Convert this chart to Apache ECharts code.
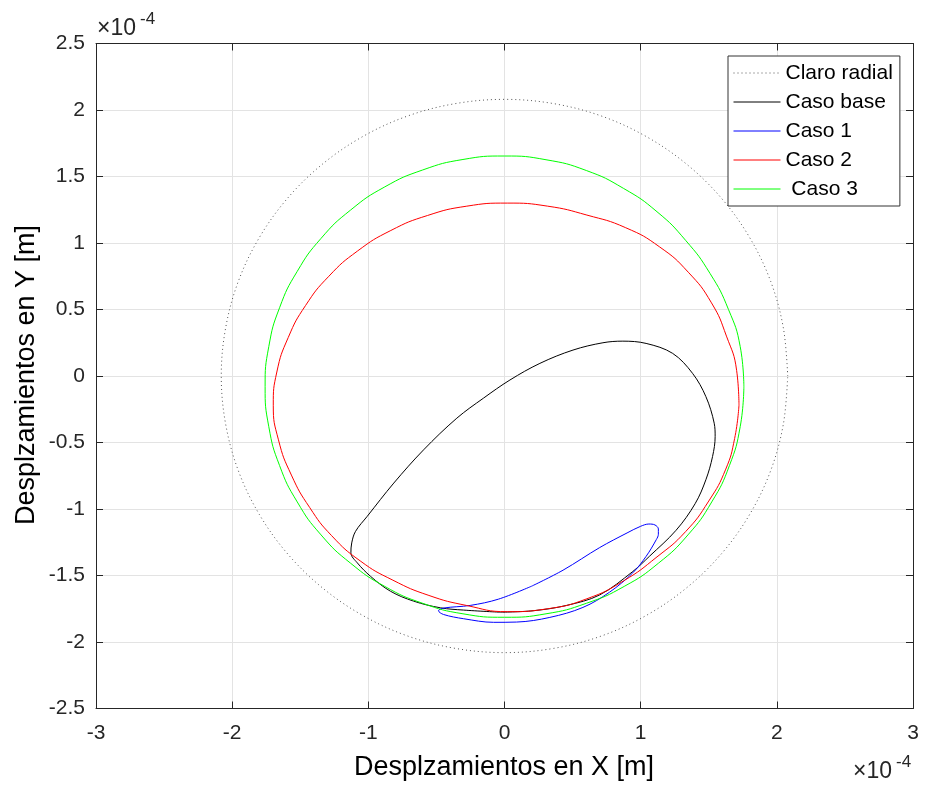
<!DOCTYPE html>
<html>
<head>
<meta charset="utf-8">
<script src="https://cdn.jsdelivr.net/npm/echarts@6/dist/echarts.min.js"></script>
<style>html,body{margin:0;padding:0;background:#fff}#c{width:935px;height:793px}</style>
</head>
<body>
<div id="c"></div>
<script>
// Values in units of 1e-4 m
const xTicks = [-3, -2, -1, 0, 1, 2, 3];
const yTicks = [-2.5, -2, -1.5, -1, -0.5, 0, 0.5, 1, 1.5, 2, 2.5];
const seriesNames = ['Claro radial', 'Caso base', 'Caso 1', 'Caso 2', ' Caso 3'];

const claroRadial = [
  [2.08,0],[2.048,0.361],[1.955,0.711],[1.801,1.04],[1.593,1.337],[1.337,1.593],[1.04,1.801],[0.711,1.955],[0.361,2.048],
  [0,2.08],[-0.361,2.048],[-0.711,1.955],[-1.04,1.801],[-1.337,1.593],[-1.593,1.337],[-1.801,1.04],[-1.955,0.711],[-2.048,0.361],
  [-2.08,0],[-2.048,-0.361],[-1.955,-0.711],[-1.801,-1.04],[-1.593,-1.337],[-1.337,-1.593],[-1.04,-1.801],[-0.711,-1.955],[-0.361,-2.048],
  [0,-2.08],[0.361,-2.048],[0.711,-1.955],[1.04,-1.801],[1.337,-1.593],[1.593,-1.337],[1.801,-1.04],[1.955,-0.711],[2.048,-0.361],[2.08,0]
];

const casoBase = [
  [-0.03,-1.776],[-0.30,-1.76],[-0.47,-1.743],[-0.667,-1.693],[-0.838,-1.618],[-0.984,-1.506],[-1.081,-1.405],
  [-1.128,-1.33],[-1.122,-1.255],[-1.094,-1.168],[-1.008,-1.055],[-0.813,-0.805],[-0.594,-0.555],[-0.35,-0.317],
  [-0.155,-0.167],[0.04,-0.03],[0.26,0.095],[0.503,0.195],[0.723,0.25],[0.869,0.262],[1.04,0.245],[1.235,0.17],
  [1.381,0.02],[1.479,-0.155],[1.54,-0.355],[1.547,-0.455],[1.528,-0.605],[1.479,-0.78],[1.40,-0.96],[1.26,-1.16],
  [1.064,-1.356],[0.942,-1.47],[0.699,-1.646],[0.455,-1.725],[0.21,-1.765],[-0.03,-1.776]
];

const caso1 = [
  [0.2,-1.58],[0.43,-1.46],[0.699,-1.29],[0.90,-1.18],[1.00,-1.13],[1.06,-1.113],[1.105,-1.12],[1.13,-1.15],
  [1.13,-1.19],[1.115,-1.23],[1.04,-1.356],[0.942,-1.48],[0.772,-1.625],[0.576,-1.74],[0.333,-1.815],[0.089,-1.85],
  [-0.08,-1.852],[-0.30,-1.825],[-0.448,-1.793],[-0.485,-1.765],[-0.448,-1.745],[-0.252,-1.725],[-0.045,-1.678],[0.2,-1.58]
];

const caso2 = [
  [1.722,-0.22],[1.705,0.04],[1.63,0.30],[1.52,0.55],[1.35,0.78],[1.14,0.97],[0.89,1.115],[0.605,1.21],[0.317,1.277],
  [0.02,1.30],[-0.277,1.277],[-0.565,1.207],[-0.835,1.094],[-1.079,0.94],[-1.29,0.75],[-1.461,0.53],[-1.588,0.29],
  [-1.672,0.03],[-1.698,-0.22],[-1.66,-0.48],[-1.565,-0.745],[-1.43,-0.99],[-1.27,-1.20],[-1.06,-1.39],[-0.82,-1.535],
  [-0.555,-1.65],[-0.28,-1.725],[0.02,-1.772],[0.317,-1.75],[0.605,-1.675],[0.875,-1.54],[1.12,-1.36],[1.33,-1.17],
  [1.50,-0.94],[1.625,-0.70],[1.69,-0.47],[1.722,-0.22]
];

const caso3 = [
  [1.758,-0.08],[1.731,0.221],[1.645,0.50],[1.51,0.77],[1.33,1.02],[1.12,1.235],[0.875,1.41],[0.601,1.545],[0.305,1.626],
  [0,1.654],[-0.305,1.628],[-0.601,1.549],[-0.879,1.422],[-1.13,1.248],[-1.347,1.035],[-1.522,0.787],[-1.652,0.513],
  [-1.731,0.221],[-1.758,-0.08],[-1.731,-0.381],[-1.652,-0.673],[-1.522,-0.947],[-1.347,-1.195],[-1.13,-1.408],
  [-0.879,-1.582],[-0.601,-1.709],[-0.305,-1.788],[0,-1.814],[0.305,-1.788],[0.601,-1.709],[0.879,-1.582],
  [1.13,-1.408],[1.347,-1.195],[1.522,-0.947],[1.652,-0.673],[1.731,-0.381],[1.758,-0.08]
];

const FONT = '"Liberation Sans", Arial, Helvetica, sans-serif';
const AX = '#262626';
const chart = echarts.init(document.getElementById('c'), null, {renderer: 'canvas'});

function axisBase(show) {
  return {
    axisLine: {show: true, onZero: false, lineStyle: {color: AX, width: 1}},
    axisTick: {show: true, inside: true, length: 7, lineStyle: {color: AX, width: 1}},
    splitLine: {show: show, lineStyle: {color: '#e3e3e3', width: 1}},
    axisLabel: {show: show, color: AX, fontFamily: FONT, fontSize: 21}
  };
}

const xBase = axisBase(true);
const yBase = axisBase(true);

const option = {
  animation: false,
  backgroundColor: '#fff',
  grid: {left: 96, right: 22, top: 43.5, bottom: 84.5, containLabel: false},
  xAxis: [
    Object.assign({type: 'value', position: 'bottom', min: xTicks[0], max: xTicks[xTicks.length-1], interval: 1}, xBase,
      {axisLabel: Object.assign({}, xBase.axisLabel, {margin: 14})}),
    Object.assign({type: 'value', position: 'top', min: xTicks[0], max: xTicks[xTicks.length-1], interval: 1}, axisBase(false))
  ],
  yAxis: [
    Object.assign({type: 'value', position: 'left', min: yTicks[0], max: yTicks[yTicks.length-1], interval: 0.5}, yBase,
      {axisLabel: Object.assign({}, yBase.axisLabel, {margin: 11})}),
    Object.assign({type: 'value', position: 'right', min: yTicks[0], max: yTicks[yTicks.length-1], interval: 0.5}, axisBase(false))
  ],
  legend: {
    orient: 'vertical', left: 728, top: 56,
    data: seriesNames,
    itemWidth: 47, itemHeight: 14, itemGap: 8,
    padding: [6.5, 7, 6.5, 5],
    backgroundColor: '#fff', borderColor: '#333', borderWidth: 1, borderRadius: 0,
    textStyle: {color: '#000', fontFamily: FONT, fontSize: 21},
    lineStyle: {width: 1},
    itemStyle: {opacity: 0}
  },
  series: [
    {name: seriesNames[0], data: claroRadial, color: '#555', lineStyle: {color: '#555', width: 1, type: [1, 3]}},
    {name: seriesNames[1], data: casoBase, color: '#000', lineStyle: {color: '#000', width: 1}},
    {name: seriesNames[2], data: caso1, color: '#0000ff', lineStyle: {color: '#0000ff', width: 1}},
    {name: seriesNames[3], data: caso2, color: '#ff0000', lineStyle: {color: '#ff0000', width: 1}, smooth: 0.5},
    {name: seriesNames[4], data: caso3, color: '#00ff00', lineStyle: {color: '#00ff00', width: 1}, smooth: 0.5}
  ].map(s => Object.assign({type: 'line', symbol: 'none', showSymbol: false, smooth: 0.35, xAxisIndex: 0, yAxisIndex: 0, z: 3}, s)),
  graphic: [
    {type: 'text', x: 504, y: 768, style: {text: 'Desplzamientos en X [m]', fill: '#000', font: '27px ' + FONT, textAlign: 'center', textVerticalAlign: 'middle'}},
    {type: 'text', x: 27, y: 375, rotation: Math.PI / 2, style: {text: 'Desplzamientos en Y [m]', fill: '#000', font: '27px ' + FONT, textAlign: 'center', textVerticalAlign: 'middle'}},
    {type: 'text', x: 97, y: 29, style: {text: '×10', fill: AX, font: '23px ' + FONT, textAlign: 'left', textVerticalAlign: 'middle'}},
    {type: 'text', x: 140, y: 19, style: {text: '-4', fill: AX, font: '17px ' + FONT, textAlign: 'left', textVerticalAlign: 'middle'}},
    {type: 'text', x: 853, y: 772, style: {text: '×10', fill: AX, font: '23px ' + FONT, textAlign: 'left', textVerticalAlign: 'middle'}},
    {type: 'text', x: 896, y: 762, style: {text: '-4', fill: AX, font: '17px ' + FONT, textAlign: 'left', textVerticalAlign: 'middle'}}
  ]
};
chart.setOption(option);
</script>
</body>
</html>
